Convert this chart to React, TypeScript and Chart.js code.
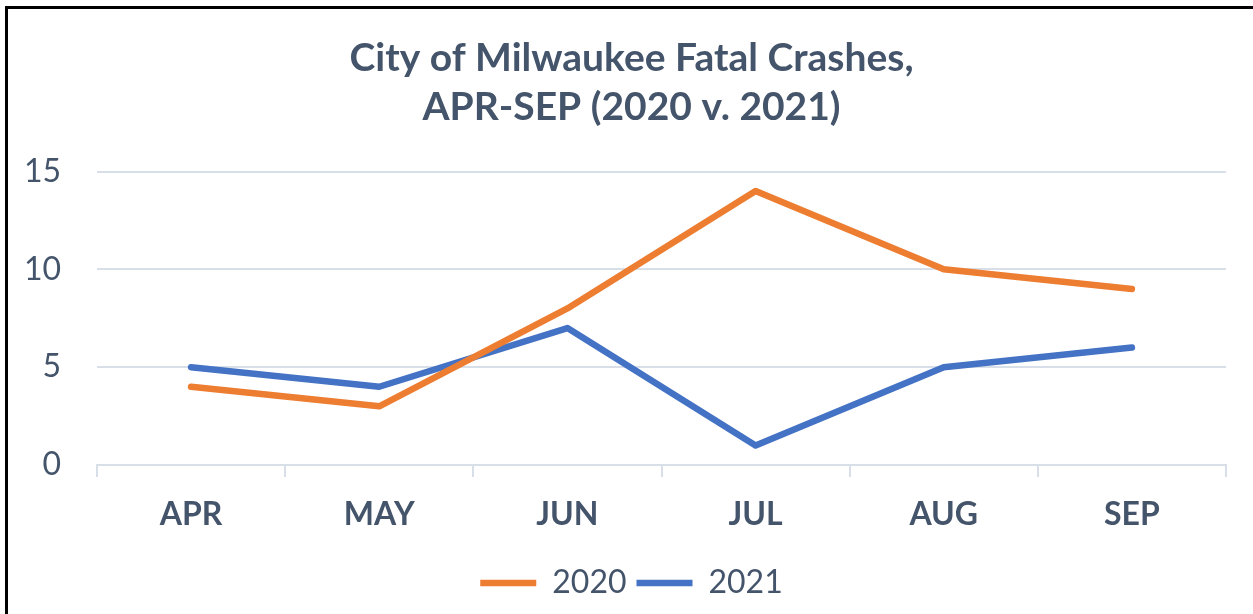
import React, { useEffect, useRef } from "react";
import { Chart, registerables } from "chart.js";

Chart.register(...registerables);

const months = ["APR", "MAY", "JUN", "JUL", "AUG", "SEP"];
const series2020 = [4, 3, 8, 14, 10, 9];
const series2021 = [5, 4, 7, 1, 5, 6];
const titleLines = ["City of Milwaukee Fatal Crashes,", "APR-SEP (2020 v. 2021)"];

const TEXT = "#44546A";
const GRID = "#D9DFE8";
const FONT = "Lato, 'Open Sans', sans-serif";

const borderPlugin = {
  id: "frameBorder",
  beforeDraw(chart: any) {
    const ctx = chart.ctx;
    ctx.save();
    ctx.strokeStyle = "#000";
    ctx.lineWidth = 3;
    ctx.beginPath();
    ctx.moveTo(6.5, chart.height + 5);
    ctx.lineTo(6.5, 7.5);
    ctx.lineTo(chart.width + 5, 7.5);
    ctx.stroke();
    ctx.restore();
  },
};

export default function App() {
  const ref = useRef<HTMLCanvasElement>(null);
  useEffect(() => {
    document.body.style.margin = "0";
    document.body.style.overflow = "hidden";
    const chart = new Chart(ref.current!, {
      type: "line",
      data: {
        labels: months,
        datasets: [
          {
            label: "2020",
            data: series2020,
            borderColor: "#ED7D31",
            backgroundColor: "#ED7D31",
            borderWidth: 6.5,
            pointRadius: 0,
            borderCapStyle: "round",
            borderJoinStyle: "round",
            tension: 0,
            yAxisID: "y",
          },
          {
            label: "2021",
            data: series2021,
            borderColor: "#4472C4",
            backgroundColor: "#4472C4",
            borderWidth: 6.5,
            pointRadius: 0,
            borderCapStyle: "round",
            borderJoinStyle: "round",
            tension: 0,
            yAxisID: "y",
          },
        ],
      },
      options: {
        animation: false,
        responsive: false,
        layout: { padding: { left: 10, right: 0, top: 0, bottom: 5 } },
        plugins: {
          title: {
            display: true,
            text: titleLines,
            color: TEXT,
            font: { family: FONT, size: 39, weight: "bold", lineHeight: 1.25 },
            padding: { top: 34, bottom: 40 },
          },
          legend: {
            position: "bottom",
            labels: {
              usePointStyle: true,
              pointStyle: "line",
              pointStyleWidth: 56,
              color: TEXT,
              font: { family: FONT, size: 32 },
              padding: 10,
            },
          },
          tooltip: { enabled: false },
        },
        scales: {
          x: {
            offset: true,
            grid: {
              offset: true,
              drawOnChartArea: false,
              drawTicks: true,
              tickLength: 12,
              color: GRID,
              lineWidth: 2,
            },
            border: { display: true, color: GRID, width: 2 },
            ticks: {
              color: TEXT,
              font: { family: FONT, size: 32, weight: "bold" },
              padding: 18,
            },
            afterFit: (s: any) => {
              s.height = 92;
            },
          },
          y: {
            position: "left",
            min: 0,
            max: 15,
            ticks: {
              stepSize: 5,
              color: TEXT,
              font: { family: FONT, size: 32 },
              padding: 36,
            },
            grid: { color: GRID, lineWidth: 2, drawTicks: false },
            border: { display: false },
            afterFit: (s: any) => {
              s.width = 87;
            },
          },
          y2: {
            position: "right",
            display: true,
            ticks: { display: false },
            grid: { display: false, drawTicks: false },
            border: { display: false },
            afterFit: (s: any) => {
              s.width = 27;
            },
          },
        },
      },
      plugins: [borderPlugin],
    });
    return () => chart.destroy();
  }, []);
  return <canvas ref={ref} width={1253} height={614} style={{ display: "block" }} />;
}
